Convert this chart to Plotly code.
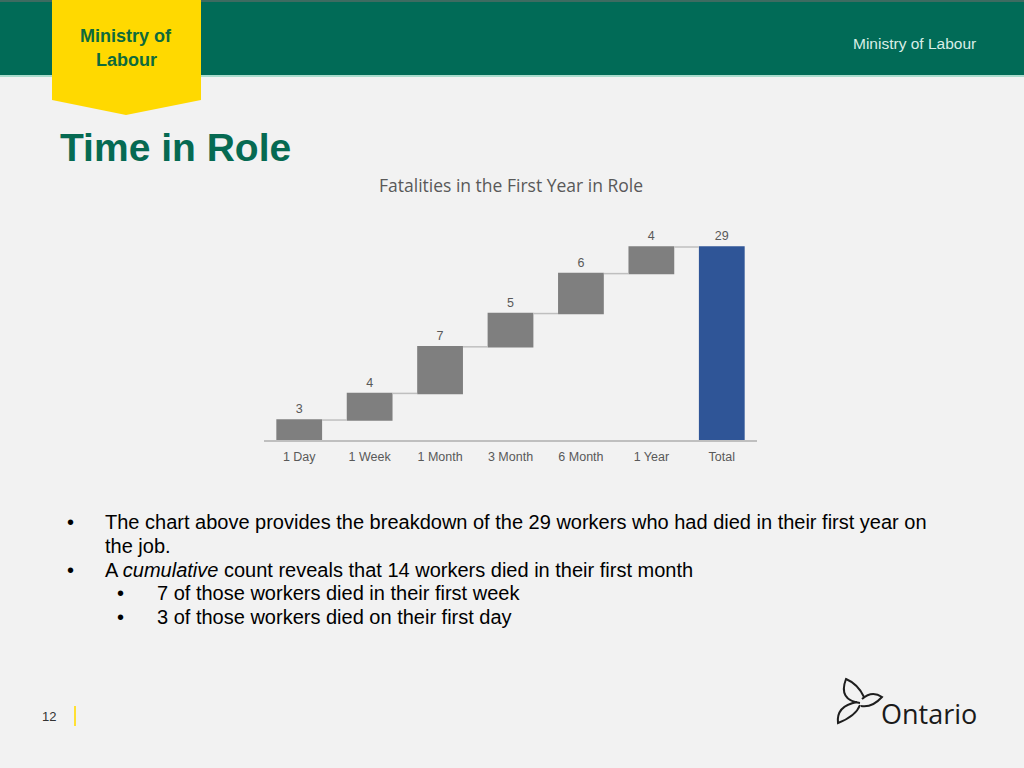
import plotly.graph_objects as go

# ---- data ----
categories = ["1 Day", "1 Week", "1 Month", "3 Month", "6 Month", "1 Year", "Total"]
increments = [3, 4, 7, 5, 6, 4]
total_value = 29
measures = ["relative"] * len(increments) + ["total"]
bar_values = increments + [total_value]
bar_labels = [str(v) for v in bar_values]

chart_title = "Fatalities in the First Year in Role"
slide_title = "Time in Role"
bullets = [
    ("•", "The chart above provides the breakdown of the 29 workers who had died in their first year on", 0),
    ("", "the job.", 0),
    ("•", "A <i>cumulative</i> count reveals that 14 workers died in their first month", 0),
    ("•", "7 of those workers died in their first week", 1),
    ("•", "3 of those workers died on their first day", 1),
]

W, H = 1024, 768


def px(x):
    return x / W


def py(y):
    return 1 - y / H


def P(x, y):
    return f"{px(x):.5f},{py(y):.5f}"


fig = go.Figure()
fig.add_trace(go.Waterfall(
    x=categories,
    y=bar_values,
    measure=measures,
    text=bar_labels,
    textposition="outside",
    textfont=dict(family="Liberation Sans", size=12.5, color="#595959"),
    increasing=dict(marker=dict(color="#7F7F7F")),
    totals=dict(marker=dict(color="#2F5597")),
    connector=dict(line=dict(color="#BFBFBF", width=1.5)),
    cliponaxis=False,
    hoverinfo="skip",
))

# plot area: baseline at y=440, 29 units -> 193 px
plot_top, plot_bottom = 220, 440
ymax = (plot_bottom - plot_top) / (193 / 29)

fig.update_layout(
    width=W, height=H, autosize=False,
    margin=dict(l=0, r=0, t=0, b=0),
    paper_bgcolor="#F2F2F2",
    plot_bgcolor="rgba(0,0,0,0)",
    showlegend=False,
    waterfallgap=0.35,
    xaxis=dict(
        domain=[px(264), px(757)],
        showline=True, linecolor="#BFBFBF", linewidth=1.5,
        showgrid=False, zeroline=False, ticks="",
        ticklabelstandoff=4,
        tickfont=dict(family="Liberation Sans", size=12.5, color="#595959"),
        fixedrange=True,
    ),
    yaxis=dict(
        domain=[py(plot_bottom), py(plot_top)],
        range=[0, ymax], visible=False, showgrid=False, zeroline=False,
        fixedrange=True,
    ),
)

shapes = []
# header band
shapes.append(dict(type="rect", xref="paper", yref="paper", x0=0, x1=1, y0=py(75), y1=1,
                   fillcolor="#016B57", line=dict(width=0), layer="below"))
shapes.append(dict(type="rect", xref="paper", yref="paper", x0=0, x1=1, y0=py(2), y1=1,
                   fillcolor="#3E6B61", line=dict(width=0), layer="below"))
shapes.append(dict(type="rect", xref="paper", yref="paper", x0=0, x1=1, y0=py(77), y1=py(75),
                   fillcolor="#A9DCCD", line=dict(width=0), layer="below"))
# yellow tab
tab = f"M {P(52,0)} L {P(201,0)} L {P(201,100)} L {P(126,115)} L {P(52,100)} Z"
shapes.append(dict(type="path", xref="paper", yref="paper", path=tab,
                   fillcolor="#FFD900", line=dict(width=0), layer="below"))
# page number separator
shapes.append(dict(type="line", xref="paper", yref="paper", x0=px(75), x1=px(75), y0=py(706), y1=py(726),
                   line=dict(color="#FFE033", width=2)))
# trillium (Ontario logo)
cx, cy = 860, 703
petal1 = f"M {P(cx,cy)} Q {P(838,700)} {P(846,679)} Q {P(858,684)} {P(864,697)}"
petal2 = f"M {P(cx+2,cy-4)} Q {P(872,690)} {P(882,697)} Q {P(872,708)} {P(cx+1,cy+3)}"
petal3 = f"M {P(cx,cy+2)} Q {P(856,716)} {P(838,723)} Q {P(836,706)} {P(cx-3,cy-1)}"
for p in (petal1, petal2, petal3):
    shapes.append(dict(type="path", xref="paper", yref="paper", path=p,
                       line=dict(color="#1E1E1E", width=2)))
fig.update_layout(shapes=shapes)

ann = []


def add_text(x, y, text, size, color, family="Liberation Sans", xanchor="left", bold=False):
    ann.append(dict(xref="paper", yref="paper", x=px(x), y=py(y), text=(f"<b>{text}</b>" if bold else text),
                    showarrow=False, xanchor=xanchor, yanchor="middle", borderpad=0,
                    font=dict(family=family, size=size, color=color)))


add_text(126, 36, "Ministry of", 18, "#0E6A3C", xanchor="center", bold=True)
add_text(126, 60, "Labour", 18, "#0E6A3C", xanchor="center", bold=True)
add_text(914, 43, "Ministry of Labour", 15.5, "#D9EEE6", xanchor="center")
add_text(59, 147, slide_title, 39, "#066A52", bold=True)
add_text(511, 185, chart_title, 17.5, "#595959", family="Open Sans", xanchor="center")

line_y = [522, 546, 570, 593, 617]
for (sym, txt, lvl), yy in zip(bullets, line_y):
    bx = 66 if lvl == 0 else 116
    tx = 104 if lvl == 0 else 156
    if sym:
        add_text(bx, yy, sym, 20, "#000000")
    add_text(tx, yy, txt, 20, "#000000")

add_text(41, 716, "12", 13, "#333333")
add_text(880, 713, "Ontario", 27, "#1A1A1A", family="Open Sans")

fig.update_layout(annotations=ann)

fig.write_html("out.html", config={"displayModeBar": False},
               post_script="document.body.style.margin='0';document.body.style.overflow='hidden';")
